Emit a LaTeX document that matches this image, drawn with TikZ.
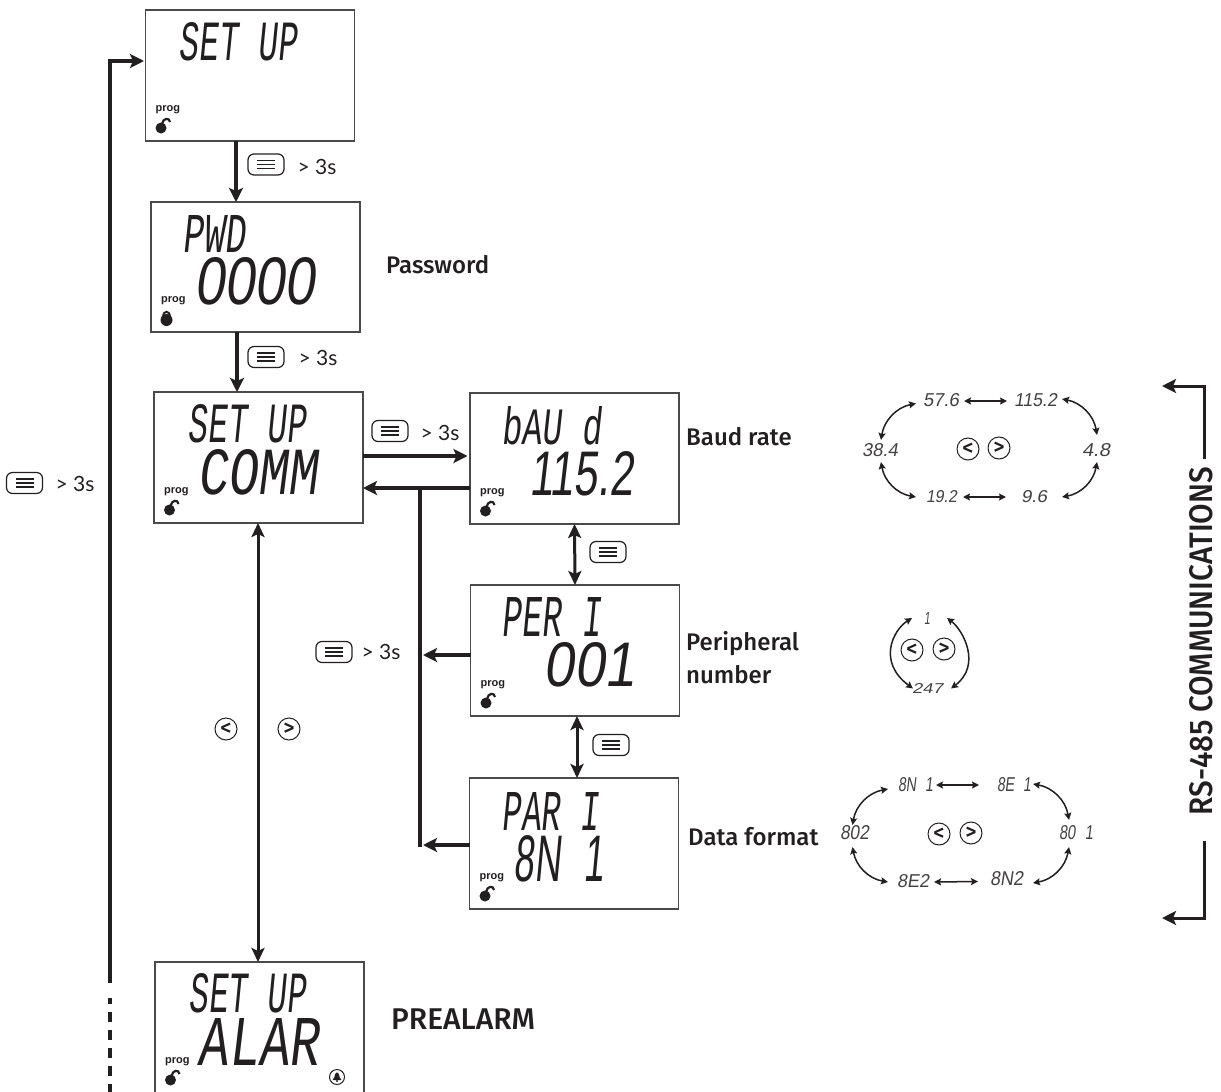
\documentclass[tikz,border=0pt]{standalone}
\usepackage{fontspec}
\usepackage{graphicx}
\usetikzlibrary{arrows.meta,calc}
\setmainfont{Lato}
\newfontfamily\lcdfont[FakeSlant=0.17]{Liberation Mono}
\newfontfamily\lcdnum[FakeSlant=0.17]{Liberation Sans}
\newfontfamily\labfont{Fira Sans Medium}
\newfontfamily\progfont{Liberation Sans}
\definecolor{ink}{HTML}{231F20}
\definecolor{edge}{HTML}{4A4A4A}
\tikzset{
  lcdbox/.style={draw=edge,line width=1.3pt,fill=white,inner sep=0pt,outer sep=0pt,minimum width=209pt,minimum height=131pt},
  flow/.style={draw=ink,line width=3.4pt,-{Stealth[length=14pt,width=14pt,inset=3pt]}},
  flowtwo/.style={draw=ink,line width=3pt,{Stealth[length=14pt,width=13pt,inset=3pt]}-{Stealth[length=14pt,width=13pt,inset=3pt]}},
  trunk/.style={draw=ink,line width=3.4pt},
  small/.style={draw=ink,line width=1.5pt,{Stealth[length=7pt,width=7pt,inset=1.2pt]}-{Stealth[length=7pt,width=7pt,inset=1.2pt]}},
  menubtn/.style={draw=ink,line width=1.2pt,rounded corners=6pt,minimum width=36pt,minimum height=21pt,inner sep=0pt,outer sep=0pt,
    path picture={
      \draw[ink,line width=1.2pt] ([xshift=-9pt,yshift=4pt]path picture bounding box.center) -- ([xshift=9pt,yshift=4pt]path picture bounding box.center);
      \draw[ink,line width=1.2pt] ([xshift=-9pt]path picture bounding box.center) -- ([xshift=9pt]path picture bounding box.center);
      \draw[ink,line width=1.2pt] ([xshift=-9pt,yshift=-4pt]path picture bounding box.center) -- ([xshift=9pt,yshift=-4pt]path picture bounding box.center);
    }},
  arrowbtn/.style={draw=ink,line width=1pt,circle,minimum size=22pt,inner sep=0pt,outer sep=0pt,text=ink,font=\labfont\fontsize{22}{22}\selectfont},
  timelab/.style={text=ink,inner sep=0pt,font=\fontsize{21}{22}\selectfont},
  sidelab/.style={text=ink,inner sep=0pt,anchor=west,font=\labfont\fontsize{24}{30}\selectfont},
  lcdtext/.style={text=ink,inner sep=0pt,outer sep=0pt},
  lcdsmall/.style={lcdtext,text=ink!85},
  proglab/.style={text=ink,inner sep=0pt,anchor=west,font=\progfont\bfseries\fontsize{11}{11}\selectfont},
  openlock/.pic={
    \fill[ink] (0,0) circle (5.5pt);
    \draw[ink,line width=2.2pt] (1,-4) .. controls (2,-10) and (8.5,-11) .. (9,-6);
  },
  closedlock/.pic={
    \fill[ink] (0,1) circle (6pt);
    \draw[ink,line width=2pt] (-3.4,-2) .. controls (-3.4,-9) and (3.4,-9) .. (3.4,-2);
  },
  bell/.pic={
    \draw[ink,line width=1pt] (0,0) circle (7.5pt);
    \fill[ink] (-4.4,3) -- (4.4,3) -- (2.6,0) -- (1.8,-3.2) -- (0,-4.6) -- (-1.8,-3.2) -- (-2.6,0) -- cycle;
    \fill[ink] (0,4) circle (1.2pt);
  }
}
\newcommand{\lcdrun}[6]{%
  \pgfmathsetmacro\lcdw{#3-#2}\pgfmathsetmacro\lcdh{#5-#4}%
  \node[#6] (#1) at ({(#2+#3)/2},{(#4+#5)/2}) {\resizebox{\lcdw pt}{\lcdh pt}{\lcdfont \lcdcontent}};}
\newcommand{\progmark}[2]{%
  \node[proglab] (#1p) at ([shift={(10pt,31pt)}]#1.south west) {prog};
  \pic at ([shift={(15.5pt,13pt)}]#1.south west) {#2};}
\newcommand{\lcdt}[6]{\def\lcdcontent{#6}\lcdrun{#1}{#2}{#3}{#4}{#5}{lcdtext}}
\newcommand{\lcds}[6]{\def\lcdcontent{#6}\lcdrun{#1}{#2}{#3}{#4}{#5}{lcdsmall}}
\newcommand{\gapone}{\hspace{.35em}}
\begin{document}
\begin{tikzpicture}[x=1pt,y=-1pt]
\clip (0,0) rectangle (1221,1092);
\fill[white] (0,0) rectangle (1221,1092);

% display boxes
\node[lcdbox] (setup) at (250,75.5) {};
\node[lcdbox,minimum height=130pt] (pwd) at (255.5,267) {};
\node[lcdbox] (comm) at (258.5,457.5) {};
\node[lcdbox] (baud) at (574.5,458.5) {};
\node[lcdbox] (peri) at (575,650.5) {};
\node[lcdbox] (par) at (574,843.5) {};
\node[lcdbox] (alar) at (259.5,1027.5) {};

% display texts
\lcdt{t1}{179}{297}{23}{61}{SET UP}
\lcdt{t2}{183}{246}{215}{252}{PWD}
\lcdt{t3}{195}{315}{258}{305}{\lcdnum 0000}
\lcdt{t4}{188}{306}{405}{443}{SET UP}
\lcdt{t5}{198}{318}{450}{495}{COMM}
\lcdt{t6}{502}{602}{407}{445}{bAU d}
\lcdt{t7}{529}{633}{452}{496}{\lcdnum 115.2}
\lcdt{t8}{502}{601}{597}{636}{PER I}
\lcdt{t9}{544}{635}{643}{687}{\lcdnum 001}
\lcdt{t10}{502}{599}{792}{830}{PAR I}
\lcdt{t11}{514}{604}{836}{882}{\lcdnum 8N \gapone1}
\lcdt{t12}{189}{306}{974}{1013}{SET UP}
\lcdt{t13}{198}{319}{1018}{1065}{ALAR}

\progmark{setup}{openlock}
\progmark{pwd}{closedlock}
\progmark{comm}{openlock}
\progmark{baud}{openlock}
\progmark{peri}{openlock}
\progmark{par}{openlock}
\progmark{alar}{openlock}
\pic at (337,1077) {bell};

% main connectors
\coordinate (lbot) at (110,983);
\coordinate (ldash) at (110,998);
\coordinate (lend) at (110,1092);
\draw[flow,shorten >=1.5pt] (lbot) |- ([yshift=14.5pt]setup.west);
\draw[draw=ink,line width=3.4pt,dash pattern=on 10pt off 8pt,dash phase=4pt] (ldash) -- (lend);
\draw[flow] ([xshift=-14pt]setup.south) -- ([xshift=-19.5pt]pwd.north);
\draw[flow] ([xshift=-18.5pt]pwd.south) -- ([xshift=-21.5pt]comm.north);
\draw[flow,shorten >=2.5pt] ([yshift=1.5pt]comm.east) -- ([yshift=2.5pt]baud.west);
\draw[flow] ([yshift=-29.5pt]baud.west) -- ([yshift=-30.5pt]comm.east);
\coordinate (jtop) at (420,488);
\coordinate (jbot) at (420,846.7);
\draw[trunk] (jtop) -- (jbot);
\coordinate (jperi) at (423,655);
\coordinate (jpar) at (423,845);
\draw[flow] ([yshift=-4.5pt]peri.west) -- (jperi);
\draw[flow] ([yshift=-1.5pt]par.west) -- (jpar);
\draw[flowtwo] (baud.south) -- (peri.north);
\draw[flowtwo] ([xshift=2pt]peri.south) -- ([xshift=3pt]par.north);
\draw[flowtwo] ([xshift=-.5pt]comm.south) -- ([xshift=-1.5pt]alar.north);

% menu buttons and times
\node[menubtn] (m1) at (266,164.5) {};
\node[timelab] (s1) at (317,167) {> 3s};
\node[menubtn] (m2) at (266,357) {};
\node[timelab] (s2) at (318,358) {> 3s};
\node[menubtn] (m3) at (390,431) {};
\node[timelab] (s3) at (440,433) {> 3s};
\node[menubtn] (m4) at (24.5,483) {};
\node[timelab] (s4) at (75,484) {> 3s};
\node[menubtn] (m5) at (334,652) {};
\node[timelab] (s5) at (381,652) {> 3s};
\node[menubtn] (m6) at (608,552) {};
\node[menubtn] (m7) at (611,745) {};

% arrow keys on the main line
\node[arrowbtn] (kl) at (226,729) {<};
\node[arrowbtn] (kr) at (289,729) {>};

% side labels
\node[sidelab] (lpw) at (386,265) {Password};
\node[sidelab] (lbr) at (686,437) {Baud rate};
\node[sidelab] (lpn1) at (686,644) {Peripheral};
\node[sidelab] (lpn2) at (686,675) {number};
\node[sidelab] (ldf) at (688,837) {Data format};
\node[sidelab,font=\labfont\fontsize{30}{30}\selectfont] (lpa) at (391,1019) {PREALARM};

% baud ring
\lcds{v576}{923}{959}{394}{407}{\lcdnum 57.6}
\lcds{v1152}{1014}{1057}{394}{407}{\lcdnum 115.2}
\lcds{v384}{862}{898}{444}{457}{\lcdnum 38.4}
\lcds{v48}{1082}{1110}{444}{457}{\lcdnum 4.8}
\lcds{v192}{926}{957}{491}{503}{\lcdnum 19.2}
\lcds{v96}{1021}{1047}{491}{503}{\lcdnum 9.6}
\node[arrowbtn] (bl) at (968,449) {<};
\node[arrowbtn] (br) at (999,448) {>};
\draw[small] ([xshift=5pt,yshift=-.5pt]v576.east) -- ([xshift=-7pt,yshift=-.5pt]v1152.west);
\draw[small] ([xshift=6pt]v192.east) -- ([xshift=-15pt]v96.west);
\draw[small] ([xshift=-7pt,yshift=-3pt]v576.west) to[bend right=35] ([xshift=1pt,yshift=4pt]v384.north);
\draw[small] ([xshift=1pt,yshift=-5pt]v384.south) to[bend right=35] ([xshift=-10pt]v192.west);
\draw[small] ([xshift=15pt]v96.east) to[bend right=35] ([xshift=1pt,yshift=-5pt]v48.south);
\draw[small] ([xshift=1pt,yshift=9pt]v48.north) to[bend right=35] ([xshift=5pt,yshift=1.5pt]v1152.east);

% peripheral ring
\lcds{v1}{924}{930}{612}{624}{\lcdnum 1}
\lcds{v247}{912}{943}{683}{693}{\lcdnum 247}
\node[arrowbtn] (pl) at (912,650) {<};
\node[arrowbtn] (pr) at (944,649) {>};
\draw[small] ([xshift=-12pt]v1.west) .. controls (893,630) and (877,662) .. ([xshift=1pt,yshift=-.5pt]v247.west);
\draw[small] ([xshift=17pt]v1.east) .. controls (963,630) and (982,665) .. ([xshift=8pt,yshift=-.5pt]v247.east);

% data format ring
\lcds{v8n1}{898}{933}{778}{792}{\lcdnum 8N \gapone1}
\lcds{v8e1}{997}{1031}{778}{792}{\lcdnum 8E \gapone1}
\lcds{v802}{840}{869}{826}{840}{\lcdnum 802}
\lcds{v801}{1059}{1093}{826}{840}{\lcdnum 80 \gapone1}
\lcds{v8e2}{897}{929}{875}{888}{\lcdnum 8E2}
\lcds{v8n2}{990}{1023}{872}{886}{\lcdnum 8N2}
\node[arrowbtn] (dl) at (939,834) {<};
\node[arrowbtn] (dr) at (971,833) {>};
\draw[small] ([xshift=3pt]v8n1.east) -- ([xshift=-18pt]v8e1.west);
\draw[small] ([xshift=5pt,yshift=-.5pt]v8e2.east) -- ([xshift=-12pt,yshift=-2.5pt]v8n2.west);
\draw[small] ([xshift=-10pt,yshift=-4pt]v8n1.west) to[bend right=35] ([xshift=-2pt,yshift=1pt]v802.north);
\draw[small] ([xshift=-2pt,yshift=-7pt]v802.south) to[bend right=35] ([xshift=-9pt,yshift=-.5pt]v8e2.west);
\draw[small] ([xshift=10pt,yshift=-4pt]v8n2.east) to[bend right=35] ([xshift=-7pt,yshift=-7pt]v801.south);
\draw[small] ([xshift=-7pt,yshift=6pt]v801.north) to[bend right=35] ([xshift=2pt,yshift=1pt]v8e1.east);

% RS-485 bracket
\node[text=ink,inner sep=0pt,rotate=90] (rs) at (1201,641) {\resizebox{348pt}{23pt}{\labfont RS-485 COMMUNICATIONS}};
\coordinate (rtop) at (1160,386);
\coordinate (rbot) at (1160,918);
\draw[flow,line width=3pt,shorten >=2pt] ([xshift=3pt,yshift=8pt]rs.east) |- (rtop);
\draw[flow,line width=3pt,shorten >=2pt] ([xshift=3pt,yshift=-26pt]rs.west) |- (rbot);
\end{tikzpicture}
\end{document}
